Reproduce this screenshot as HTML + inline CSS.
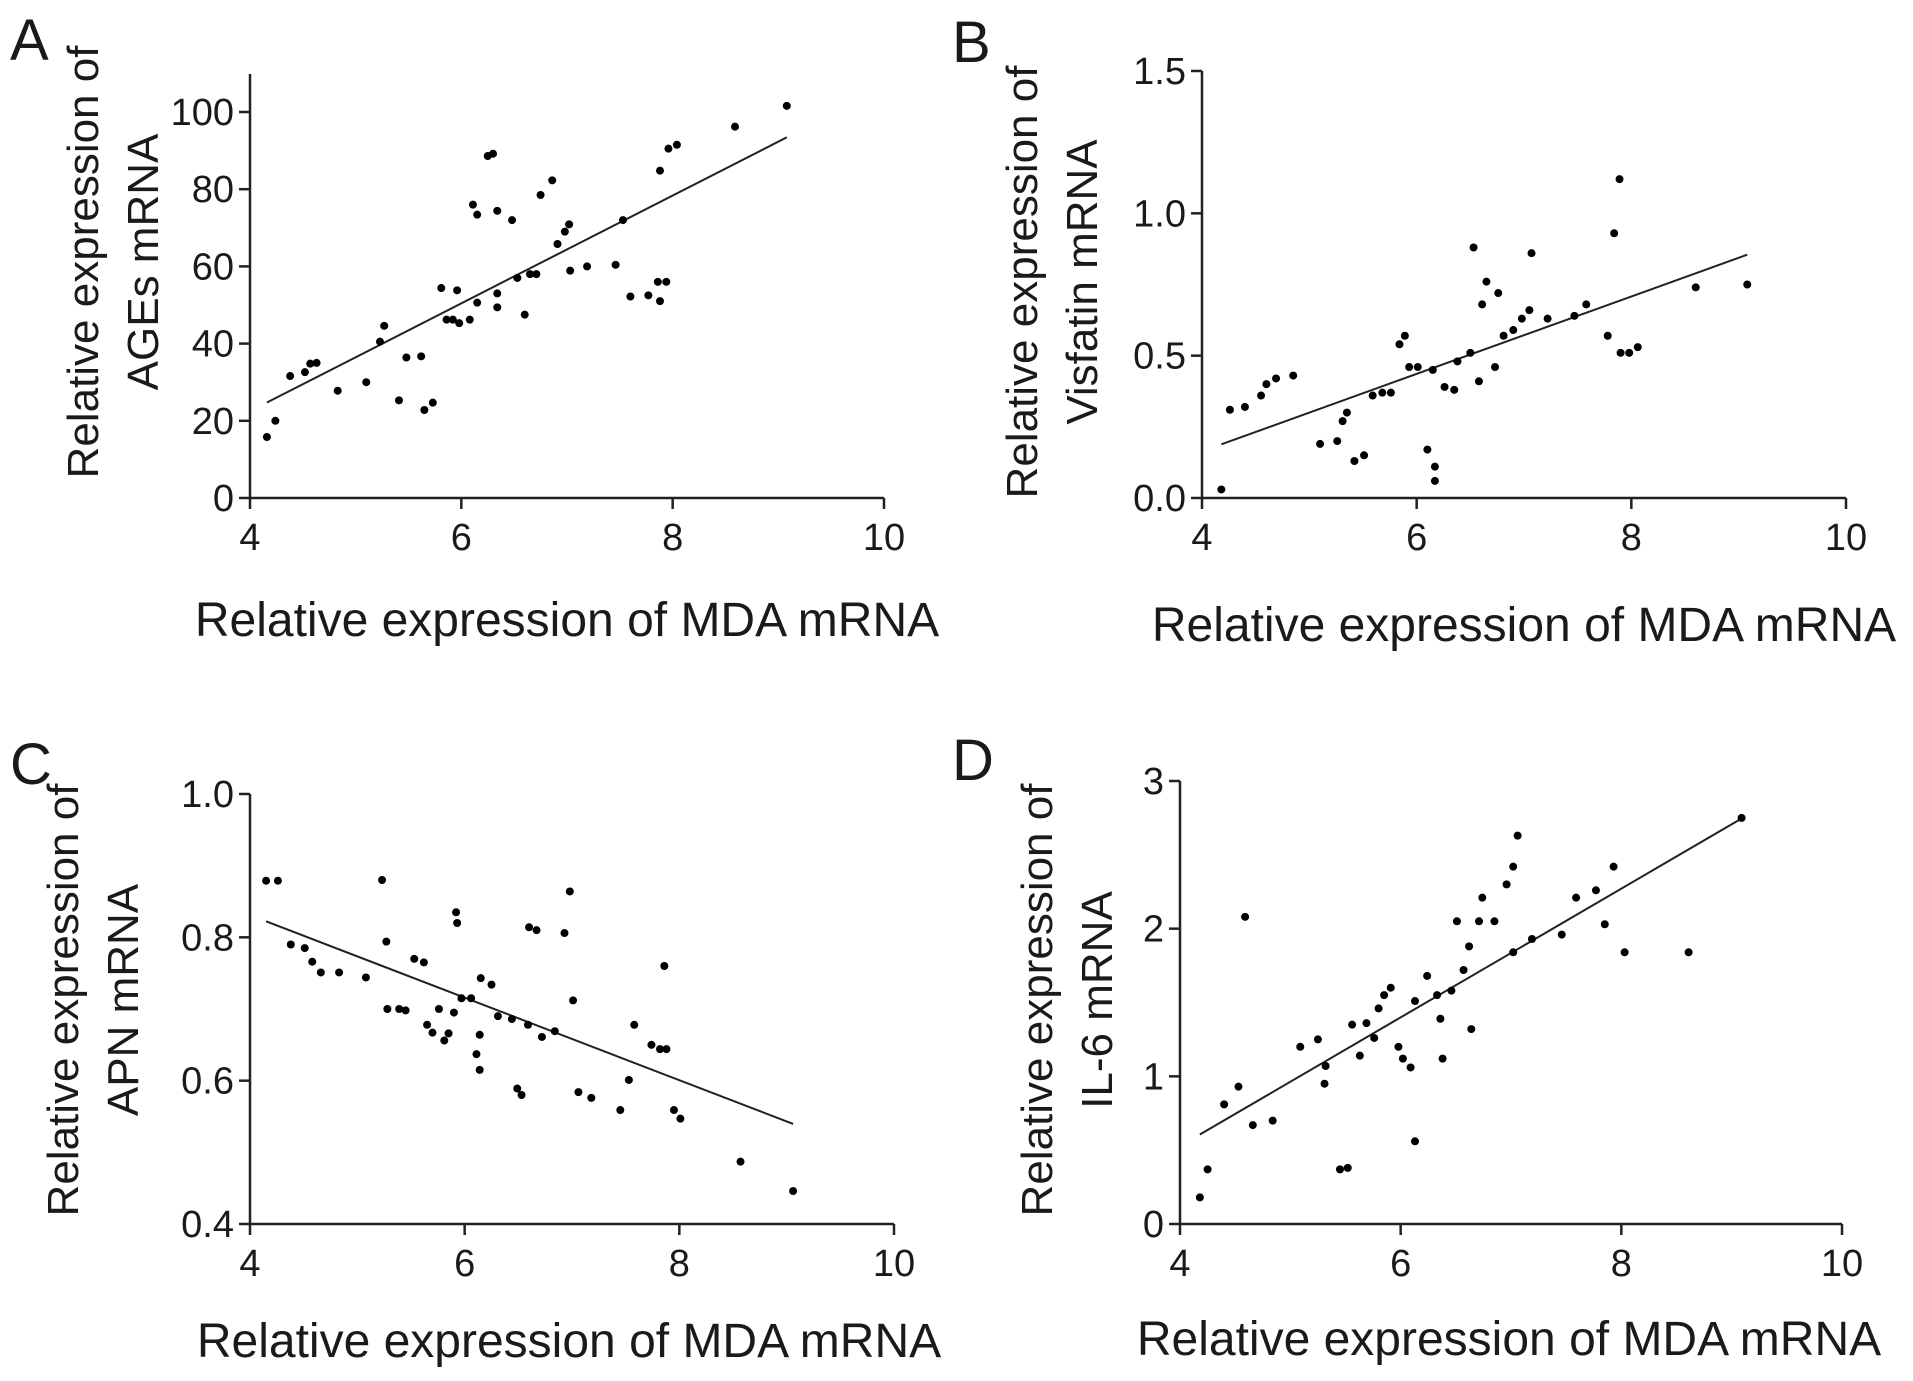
<!DOCTYPE html>
<html><head><meta charset="utf-8"><style>
body{margin:0;background:#fff}
svg{display:block}
text{font-family:"Liberation Sans",Arial,sans-serif;fill:#1a1a1a}
.tick{font-family:"Liberation Sans Narrow","Liberation Sans",Arial,sans-serif}
</style></head><body>
<svg id="fig" width="1913" height="1381" viewBox="0 0 1913 1381"></svg>
<script>
const aX=[4.16,4.24,4.38,4.52,4.57,4.63,4.83,5.1,5.23,5.27,5.41,5.48,5.62,5.65,5.73,5.81,5.86,5.92,5.96,5.98,6.08,6.11,6.15,6.15,6.25,6.3,6.34,6.34,6.34,6.48,6.53,6.6,6.65,6.71,6.75,6.86,6.91,6.98,7.02,7.03,7.19,7.46,7.53,7.6,7.77,7.86,7.88,7.94,7.88,7.96,8.04,8.59,9.08];
const aY=[15.8,20,31.6,32.6,34.8,35,27.8,30,40.5,44.6,25.3,36.4,36.7,22.8,24.7,54.4,46.2,46.2,53.8,45.3,46.2,76,73.4,50.6,88.6,89.2,74.4,49.4,53,72,57,47.5,58,58,78.5,82.3,65.8,69,70.9,58.9,60,60.4,72,52.2,52.5,56,51,56,84.8,90.5,91.5,96.2,101.6];
const bX=[4.18,4.26,4.4,4.55,4.6,4.69,4.85,5.1,5.26,5.31,5.35,5.42,5.51,5.59,5.68,5.76,5.84,5.89,5.93,6.01,6.1,6.17,6.17,6.15,6.26,6.35,6.38,6.5,6.53,6.58,6.61,6.65,6.73,6.76,6.81,6.9,6.98,7.05,7.07,7.22,7.47,7.58,7.78,7.84,7.89,7.9,7.98,8.06,8.6,9.08];
const bY=[0.03,0.31,0.32,0.36,0.4,0.42,0.43,0.19,0.2,0.27,0.3,0.13,0.15,0.36,0.37,0.37,0.54,0.57,0.46,0.46,0.17,0.11,0.06,0.45,0.39,0.38,0.48,0.51,0.88,0.41,0.68,0.76,0.46,0.72,0.57,0.59,0.63,0.66,0.86,0.63,0.64,0.68,0.57,0.93,1.12,0.51,0.51,0.53,0.74,0.75];
const cX=[4.15,4.26,4.38,4.51,4.58,4.66,4.83,5.08,5.23,5.27,5.28,5.39,5.45,5.53,5.62,5.65,5.7,5.76,5.81,5.85,5.9,5.92,5.93,5.97,6.06,6.11,6.14,6.14,6.15,6.25,6.31,6.44,6.49,6.53,6.59,6.6,6.67,6.72,6.84,6.93,6.98,7.01,7.06,7.18,7.45,7.53,7.58,7.74,7.82,7.86,7.88,7.95,8.01,8.57,9.06];
const cY=[0.879,0.879,0.79,0.785,0.766,0.751,0.751,0.744,0.88,0.794,0.70,0.70,0.698,0.77,0.765,0.678,0.667,0.70,0.656,0.666,0.695,0.835,0.82,0.715,0.715,0.637,0.664,0.615,0.743,0.734,0.69,0.686,0.589,0.58,0.678,0.814,0.81,0.661,0.669,0.806,0.864,0.712,0.584,0.576,0.559,0.601,0.678,0.65,0.644,0.76,0.644,0.559,0.547,0.487,0.446];
const dX=[4.18,4.25,4.4,4.53,4.59,4.66,4.84,5.09,5.25,5.31,5.32,5.45,5.52,5.56,5.63,5.69,5.76,5.8,5.85,5.91,5.98,6.02,6.09,6.13,6.13,6.24,6.33,6.36,6.38,6.46,6.51,6.57,6.62,6.64,6.71,6.74,6.85,6.96,7.02,7.06,7.02,7.19,7.46,7.59,7.77,7.85,7.93,8.03,8.61,9.09];
const dY=[0.18,0.37,0.81,0.93,2.08,0.67,0.70,1.2,1.25,0.95,1.07,0.37,0.38,1.35,1.14,1.36,1.26,1.46,1.55,1.6,1.2,1.12,1.06,0.56,1.51,1.68,1.55,1.39,1.12,1.58,2.05,1.72,1.88,1.32,2.05,2.21,2.05,2.30,2.42,2.63,1.84,1.93,1.96,2.21,2.26,2.03,2.42,1.84,1.84,2.75];
const xTicks=[4,6,8,10];
const aTicks=[0,20,40,60,80,100];
const aTickLabels=["0","20","40","60","80","100"];
const bTicks=[0,0.5,1.0,1.5];
const bTickLabels=["0.0","0.5","1.0","1.5"];
const cTicks=[0.4,0.6,0.8,1.0];
const cTickLabels=["0.4","0.6","0.8","1.0"];
const dTicks=[0,1,2,3];
const dTickLabels=["0","1","2","3"];

const NS="http://www.w3.org/2000/svg";
const svg=document.getElementById('fig');
function mk(tag,attrs,parent){const e=document.createElementNS(NS,tag);for(const k in attrs)e.setAttribute(k,attrs[k]);(parent||svg).appendChild(e);return e;}

function panel(p){
  const g=mk('g',{});
  
  
  const sx=v=>p.x0+(v-4)/(10-4)*(p.x1-p.x0);
  const sy=v=>p.y0+(v-p.ymin)/(p.ymax-p.ymin)*(p.y1-p.y0);
  const ax=mk('path',{d:`M${p.x0},${p.ytop}V${p.y0}H${p.x1}`,stroke:'#222','stroke-width':2.5,fill:'none'},g);
  
  
  xTicks.forEach(t=>{
    mk('line',{x1:sx(t),x2:sx(t),y1:p.y0,y2:p.y0+11,stroke:'#222','stroke-width':2.5},g);
    const tx=mk('text',{x:sx(t),y:p.y0+52,'font-size':38,'text-anchor':'middle',class:'tick'},g);
    tx.textContent=t;
    
    
  });
  p.ticks.forEach((t,i)=>{
    mk('line',{x1:p.x0-11,x2:p.x0,y1:sy(t),y2:sy(t),stroke:'#222','stroke-width':2.5},g);
    const tx=mk('text',{x:p.x0-16,y:sy(t)+13,'font-size':38,'text-anchor':'end',class:'tick'},g);
    tx.textContent=p.labels[i];
    
    
  });
  const n=p.xs.length;let mx=0,my=0;for(let i=0;i<n;i++){mx+=p.xs[i];my+=p.ys[i];}mx/=n;my/=n;
  let sxy=0,sxx=0;for(let i=0;i<n;i++){sxy+=(p.xs[i]-mx)*(p.ys[i]-my);sxx+=(p.xs[i]-mx)**2;}
  const b=sxy/sxx,a=my-b*mx;const xa=Math.min(...p.xs),xb=Math.max(...p.xs);
  const ln=mk('line',{x1:sx(xa),y1:sy(a+b*xa),x2:sx(xb),y2:sy(a+b*xb),stroke:'#222','stroke-width':2},g);
  
  
  for(let i=0;i<n;i++){
    const c=mk('circle',{cx:sx(p.xs[i]),cy:sy(p.ys[i]),r:4,fill:'#000'},g);
    
    
  }
  const xt=mk('text',{x:p.xtx,y:p.xty,'font-size':48,'text-anchor':'middle'},g);
  xt.textContent='Relative expression of MDA mRNA';
  
  
  const yt=mk('text',{transform:`translate(${p.ytx},${p.yty}) rotate(-90)`,'font-size':44,'text-anchor':'middle'},g);
  
  
  const t1=mk('tspan',{x:0,y:0},yt);t1.textContent='Relative expression of';
  const t2=mk('tspan',{x:0,y:60},yt);t2.textContent=p.ytitle;
  const lt=mk('text',{x:p.lx,y:p.ly,'font-size':58},g);
  lt.textContent=p.id;
  
  
}
panel({id:'A',xs:aX,ys:aY,x0:250,x1:884,y0:498,y1:112,ymin:0,ymax:100,ytop:74,ticks:aTicks,labels:aTickLabels,xtx:567,xty:636,ytx:98,yty:262,ytitle:'AGEs mRNA',lx:10,ly:60});
panel({id:'B',xs:bX,ys:bY,x0:1202,x1:1846,y0:498,y1:71,ymin:0,ymax:1.5,ytop:71,ticks:bTicks,labels:bTickLabels,xtx:1524,xty:641,ytx:1037,yty:282,ytitle:'Visfatin mRNA',lx:952,ly:62});
panel({id:'C',xs:cX,ys:cY,x0:250,x1:894,y0:1224,y1:794,ymin:0.4,ymax:1.0,ytop:794,ticks:cTicks,labels:cTickLabels,xtx:569,xty:1357,ytx:78,yty:1000,ytitle:'APN mRNA',lx:10,ly:784});
panel({id:'D',xs:dX,ys:dY,x0:1180,x1:1842,y0:1224,y1:781,ymin:0,ymax:3,ytop:781,ticks:dTicks,labels:dTickLabels,xtx:1509,xty:1355,ytx:1052,yty:1000,ytitle:'IL-6 mRNA',lx:952,ly:780});
</script>
</body></html>
